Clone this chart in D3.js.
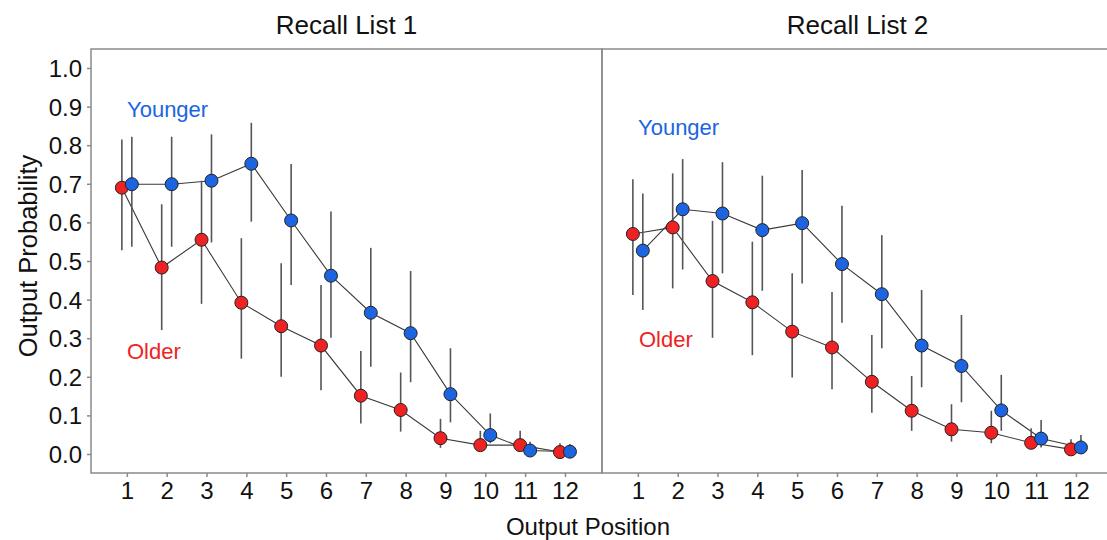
<!DOCTYPE html>
<html>
<head>
<meta charset="utf-8">
<script src="https://cdn.jsdelivr.net/npm/d3@7"></script>
<style>
  body { margin: 0; background: #fff; }
  svg { display: block; font-family: "Liberation Sans", Arial, sans-serif; }
</style>
</head>
<body>
<svg id="chart" width="1107" height="540"></svg>
<script>
// ---- Data ----
const positions = [1,2,3,4,5,6,7,8,9,10,11,12];
const yTicks = [0,0.1,0.2,0.3,0.4,0.5,0.6,0.7,0.8,0.9,1.0];
const panelTitles = ["Recall List 1", "Recall List 2"];
const groupNames = ["Older", "Younger"];

// Recall List 1
const list1Older      = [0.690,0.483,0.555,0.392,0.331,0.281,0.151,0.114,0.041,0.023,0.023,0.005];
const list1OlderLow   = [0.528,0.321,0.389,0.247,0.200,0.165,0.079,0.058,0.016,0.008,0.010,0.000];
const list1OlderHigh  = [0.815,0.647,0.708,0.559,0.494,0.438,0.267,0.211,0.091,0.060,0.060,0.028];
const list1Younger     = [0.699,0.699,0.708,0.752,0.605,0.462,0.366,0.313,0.155,0.049,0.009,0.006];
const list1YoungerLow  = [0.537,0.537,0.548,0.602,0.438,0.301,0.226,0.186,0.082,0.028,0.000,0.000];
const list1YoungerHigh = [0.822,0.822,0.828,0.858,0.751,0.628,0.534,0.474,0.274,0.105,0.032,0.026];

// Recall List 2
const list2Older      = [0.570,0.587,0.448,0.393,0.317,0.276,0.187,0.112,0.064,0.055,0.029,0.012];
const list2OlderLow   = [0.412,0.429,0.301,0.256,0.198,0.168,0.107,0.060,0.032,0.028,0.015,0.002];
const list2OlderHigh  = [0.712,0.727,0.604,0.550,0.468,0.420,0.308,0.202,0.129,0.112,0.067,0.038];
const list2Younger     = [0.527,0.634,0.623,0.580,0.598,0.492,0.414,0.281,0.228,0.113,0.040,0.017];
const list2YoungerLow  = [0.373,0.478,0.468,0.423,0.442,0.340,0.274,0.173,0.134,0.060,0.017,0.005];
const list2YoungerHigh = [0.675,0.764,0.756,0.721,0.736,0.643,0.567,0.425,0.360,0.205,0.088,0.049];

// ---- Layout ----
const svg = d3.select("#chart");
const panelW = 511;
const panelX0 = [91, 602];
const frameTop = 49, frameBottom = 473;
const colors = { Older: "#ee2222", Younger: "#1c64e0" };
const jitter = { Older: -0.125, Younger: 0.125 };

const y = d3.scaleLinear().domain([0, 1]).range([454, 68]);

const panels = [
  { title: panelTitles[0], groups: {
      Older:   { v: list1Older, lo: list1OlderLow, hi: list1OlderHigh },
      Younger: { v: list1Younger, lo: list1YoungerLow, hi: list1YoungerHigh } },
    labels: { Younger: [127, 117], Older: [127, 359] } },
  { title: panelTitles[1], groups: {
      Older:   { v: list2Older, lo: list2OlderLow, hi: list2OlderHigh },
      Younger: { v: list2Younger, lo: list2YoungerLow, hi: list2YoungerHigh } },
    labels: { Younger: [638, 135], Older: [639, 347] } }
];

panels.forEach((p, i) => {
  const x0 = panelX0[i];
  const x = d3.scaleLinear().domain([0.1, 12.93]).range([x0, x0 + panelW]);
  const g = svg.append("g");

  // frame
  g.append("rect")
    .attr("x", x0).attr("y", frameTop)
    .attr("width", panelW).attr("height", frameBottom - frameTop)
    .attr("fill", "none").attr("stroke", "#8a8a8a").attr("stroke-width", 1.5);

  // title
  g.append("text")
    .attr("x", x0 + panelW / 2).attr("y", 34)
    .attr("text-anchor", "middle").attr("font-size", 26).attr("fill", "#111")
    .text(p.title);

  // x axis
  const xAxis = d3.axisBottom(x).tickValues(positions).tickSize(4).tickPadding(5).tickFormat(d3.format("d"));
  const ax = g.append("g").attr("transform", `translate(0,${frameBottom})`).call(xAxis);
  ax.select(".domain").remove();
  ax.selectAll(".tick line").attr("stroke", "#8a8a8a").attr("stroke-width", 1.5);
  ax.selectAll(".tick text").attr("font-size", 24).attr("fill", "#111")
    .attr("font-family", "Liberation Sans, Arial, sans-serif");

  // y axis on left panel
  if (i === 0) {
    const yAxis = d3.axisLeft(y).tickValues(yTicks).tickSize(4).tickPadding(5).tickFormat(d3.format(".1f"));
    const ay = g.append("g").attr("transform", `translate(${x0},0)`).call(yAxis);
    ay.select(".domain").remove();
    ay.selectAll(".tick line").attr("stroke", "#8a8a8a").attr("stroke-width", 1.5);
    ay.selectAll(".tick text").attr("font-size", 24).attr("fill", "#111").attr("dy", "0.35em")
      .attr("font-family", "Liberation Sans, Arial, sans-serif");
  }

  const line = d3.line().x(d => x(d.p)).y(d => y(d.v));

  // lines
  groupNames.forEach(name => {
    const s = p.groups[name];
    const pts = positions.map((pos, k) => ({ p: pos + jitter[name], v: s.v[k] }));
    g.append("path").datum(pts).attr("d", line)
      .attr("fill", "none").attr("stroke", "#3a3a3a").attr("stroke-width", 1.1);
  });

  // error bars
  groupNames.forEach(name => {
    const s = p.groups[name];
    g.selectAll(null).data(positions).enter().append("line")
      .attr("x1", (pos) => x(pos + jitter[name])).attr("x2", (pos) => x(pos + jitter[name]))
      .attr("y1", (pos, k) => y(s.lo[k])).attr("y2", (pos, k) => y(s.hi[k]))
      .attr("stroke", "#555").attr("stroke-width", 1.6);
  });

  // points
  groupNames.forEach(name => {
    const s = p.groups[name];
    g.selectAll(null).data(positions).enter().append("circle")
      .attr("cx", (pos) => x(pos + jitter[name]))
      .attr("cy", (pos, k) => y(s.v[k]))
      .attr("r", 6.5)
      .attr("fill", colors[name]).attr("stroke", "#222").attr("stroke-width", 1);
  });

  // group labels
  groupNames.forEach(name => {
    g.append("text")
      .attr("x", p.labels[name][0]).attr("y", p.labels[name][1])
      .attr("font-size", 22).attr("fill", colors[name])
      .text(name);
  });
});

// axis titles
svg.append("text")
  .attr("transform", "translate(37,256) rotate(-90)")
  .attr("text-anchor", "middle").attr("font-size", 25.5).attr("fill", "#111")
  .text("Output Probability");

svg.append("text")
  .attr("x", 588).attr("y", 535)
  .attr("text-anchor", "middle").attr("font-size", 24).attr("fill", "#111")
  .text("Output Position");
</script>
</body>
</html>
